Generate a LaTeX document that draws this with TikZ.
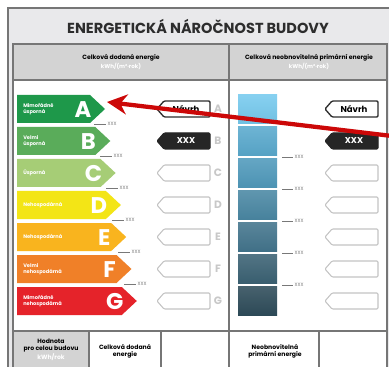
\documentclass[tikz,border=0pt]{standalone}
\usepackage{fontspec}
\setmainfont{Poppins}
\usetikzlibrary{arrows.meta}

\definecolor{frameGray}{RGB}{118,118,118}
\definecolor{titleGray}{RGB}{233,233,235}
\definecolor{headGray}{RGB}{211,211,211}
\definecolor{inkGray}{RGB}{45,45,45}
\definecolor{letGray}{RGB}{200,200,200}
\definecolor{tagGray}{RGB}{196,196,196}
\definecolor{tickGray}{RGB}{120,120,120}
\definecolor{clA}{RGB}{30,152,74}
\definecolor{clB}{RGB}{90,172,90}
\definecolor{clC}{RGB}{166,205,118}
\definecolor{clD}{RGB}{243,229,22}
\definecolor{clE}{RGB}{249,180,30}
\definecolor{clF}{RGB}{240,128,40}
\definecolor{clG}{RGB}{229,35,42}
\definecolor{scA}{RGB}{118,202,238}
\definecolor{scB}{RGB}{90,170,206}
\definecolor{scC}{RGB}{80,154,188}
\definecolor{scD}{RGB}{74,136,164}
\definecolor{scE}{RGB}{67,117,141}
\definecolor{scF}{RGB}{59,98,116}
\definecolor{scG}{RGB}{46,76,90}
\definecolor{arrowRed}{RGB}{204,8,8}

\tikzset{
  framestroke/.style={draw=frameGray, line width=0.9},
  hdtext/.style={inner sep=0.75pt, align=center, text=black, font=\fontsize{4.6}{5.4}\selectfont\bfseries},
  hdunit/.style={inner sep=0.75pt, text=white, font=\fontsize{4.2}{5}\selectfont\bfseries},
  barletter/.style={inner sep=0pt, text=white, font=\fontsize{17}{17}\selectfont\bfseries},
  barlabel/.style={inner sep=0pt, anchor=west, align=left, text=white, font=\fontsize{3.8}{4.6}\selectfont\bfseries},
  sidelet/.style={inner sep=0pt, text=letGray, font=\fontsize{8}{8}\selectfont\bfseries},
  tagempty/.style={draw=tagGray, fill=white, line width=0.8, rounded corners=0.8},
  tagdesign/.style={draw=inkGray, fill=white, line width=1, rounded corners=0.8},
  tagvalue/.style={draw=black!85, fill=black!85, line width=0.8, rounded corners=0.8},
  tagtext/.style={inner sep=0pt, font=\fontsize{6.4}{6.4}\selectfont\bfseries},
  tickline/.style={draw=tickGray, line width=0.6},
  ticklbl/.style={inner sep=1pt, anchor=west, text=tickGray, font=\fontsize{3.6}{3.6}\selectfont},
  redarrow/.style={draw=arrowRed, line width=3.2, -{Stealth[length=15pt, width=15pt, inset=5pt]}}
}

\begin{document}
\begin{tikzpicture}[x=0.75pt,y=0.75pt,yscale=-1,xscale=1]
        \useasboundingbox (0,0) rectangle (389,367);
        \clip (0,0) rectangle (389,367);

        %Shape: Rectangle [id:outer frame]
        \draw [framestroke, fill=titleGray] (8,8) rectangle (392,372);
        %Shape: Rectangle [id:inner table]
        \fill [white] (13,44) rectangle (387,372);
        \fill [headGray] (13,44) rectangle (387,80);
        \fill [headGray] (13,331) rectangle (89,372);
        %Straight Lines [id:table rules]
        \draw [framestroke] (13,80) -- (387,80) (13,331) -- (387,331) (229,44) -- (229,372)
              (89,331) -- (89,372) (161,331) -- (161,372) (319,331) -- (319,372);
        \draw [framestroke] (13,44) rectangle (387,372);

        % Text Node
        \node [inner sep=0.75pt, text=inkGray] (title) at (198,26)
              {\fontsize{10.9}{10.9}\selectfont\bfseries ENERGETICKÁ NÁROČNOST BUDOVY};
        % Text Node
        \node [hdtext] (hdLeft) at (121,58) {Celková dodaná energie};
        \node [hdunit] (hdLeftUnit) at (121,66) {kWh/(m²·rok)};
        % Text Node
        \node [hdtext] (hdRight) at (309,58) {Celková neobnovitelná primární energie};
        \node [hdunit] (hdRightUnit) at (309,66) {kWh/(m²·rok)};

        %Shape: class bars A--G
        \foreach \i/\c/\l/\t in {0/clA/A/{Mimořádně\\úsporná}, 1/clB/B/{Velmi\\úsporná},
                                 2/clC/C/{Úsporná}, 3/clD/D/{Nehospodárná}, 4/clE/E/{Nehospodárná},
                                 5/clF/F/{Velmi\\nehospodárná}, 6/clG/G/{Mimořádně\\nehospodárná}}{
          \pgfmathsetmacro{\yt}{95+32*\i}
          \pgfmathsetmacro{\xp}{105+5.3*\i}
          \fill [\c] (17,\yt) -- (\xp-15,\yt) -- (\xp,\yt+14) -- (\xp-15,\yt+28) -- (17,\yt+28) -- cycle;
          \coordinate (tip\l) at (\xp,\yt+14);
          \node [barletter] (let\l) at (\xp-22,\yt+14.5) {\l};
          \node [barlabel] (lab\l) at (23,\yt+14) {\t};
          % grey class letters
          \node [sidelet] (side\l) at (218,109+32*\i) {\l};
        }

        %Shape: right column scale
        \foreach \i/\c in {0/scA, 1/scB, 2/scC, 3/scD, 4/scE, 5/scF, 6/scG}{
          \pgfmathsetmacro{\ys}{\i==0 ? 95 : 94.2+32*\i}
          \shade [top color=\c!88!white, bottom color=\c!95!black] (238,\ys) rectangle (277,123.8+32*\i);
        }

        %Shape: empty indicator tags C--G
        \foreach \i in {2,...,6}{
          \pgfmathsetmacro{\yc}{109+32*\i}
          \draw [tagempty] (164,\yc-8) -- (210,\yc-8) -- (210,\yc+8) -- (164,\yc+8) -- (157,\yc) -- cycle;
          \draw [tagempty] (332,\yc-8) -- (378,\yc-8) -- (378,\yc+8) -- (332,\yc+8) -- (325,\yc) -- cycle;
        }
        %Shape: design tags
        \draw [tagdesign] (164,101) -- (210,101) -- (210,117) -- (164,117) -- (157,109) -- cycle;
        \node [tagtext] (designL) at (186,109) {Návrh};
        \draw [tagdesign] (332,101) -- (378,101) -- (378,117) -- (332,117) -- (325,109) -- cycle;
        \node [tagtext] (designR) at (354,109) {Návrh};
        %Shape: value tags
        \draw [tagvalue] (164,133) -- (210,133) -- (210,149) -- (164,149) -- (157,141) -- cycle;
        \node [tagtext, text=white] (valueL) at (186,141) {XXX};
        \draw [tagvalue] (332,133) -- (378,133) -- (378,149) -- (332,149) -- (325,141) -- cycle;
        \node [tagtext, text=white] (valueR) at (354,141) {XXX};

        %Straight Lines: class limits
        \foreach \i in {0,...,5}{
          \draw [tickline] (94+6*\i,124+32*\i) -- (106+6*\i,124+32*\i) node [ticklbl] (limL\i) {XXX};
        }
        \foreach \i in {1,...,5}{
          \draw [tickline] (282,125+32*\i) -- (293,125+32*\i) node [ticklbl] (limR\i) {XXX};
        }

        % Text Node
        \node [hdtext] (rowTotal) at (51,350) {Hodnota\\pro celou budovu\\\textcolor{white}{kWh/rok}};
        \node [hdtext] (rowDelivered) at (125,351) {Celková dodaná\\energie};
        \node [hdtext] (rowPrimary) at (275,351) {Neobnovitelná\\primární energie};

        %Straight Lines [id:pointer]
        \coordinate (pointerStart) at (392,136);
        \coordinate (pointerEnd) at (107,102);
        \draw [redarrow] (pointerStart) -- (pointerEnd);
\end{tikzpicture}
\end{document}
